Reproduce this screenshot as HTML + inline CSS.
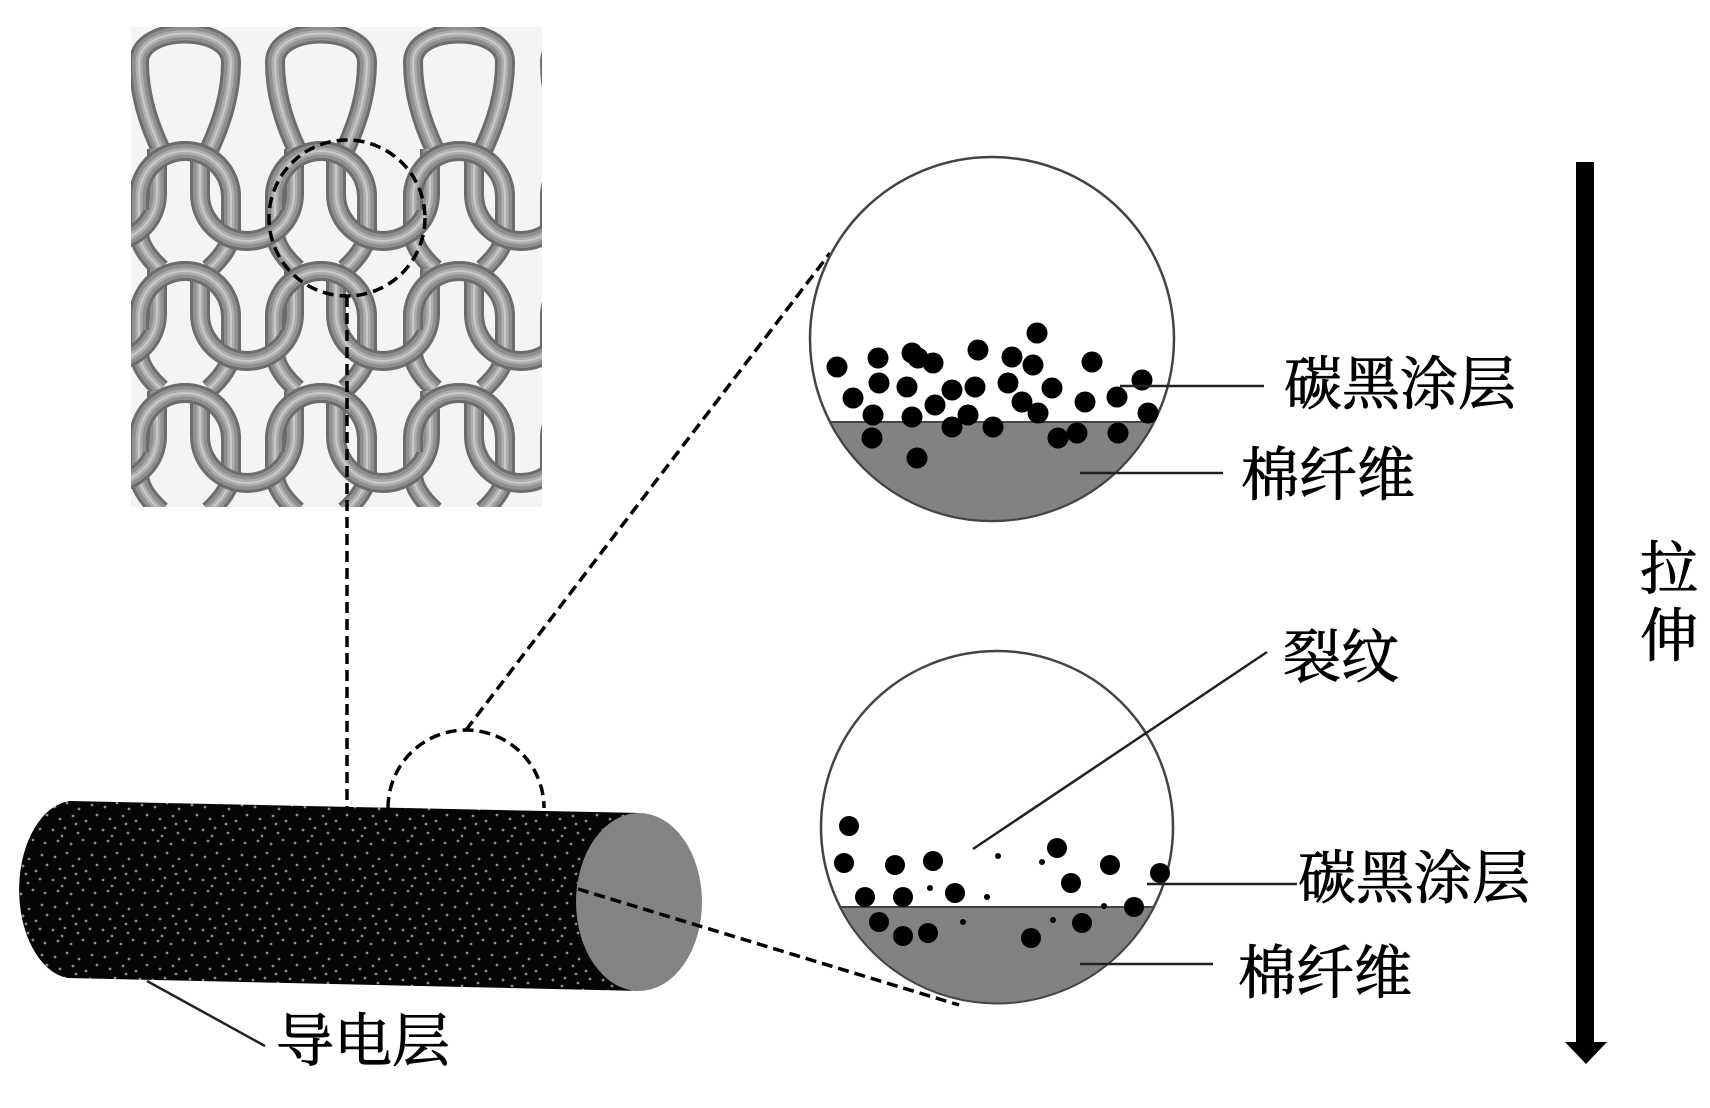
<!DOCTYPE html>
<html>
<head>
<meta charset="utf-8">
<style>
  html, body { margin: 0; padding: 0; background: #ffffff; }
  body { width: 1710px; height: 1108px; overflow: hidden; }
  svg { display: block; }
  .lbl { font-family: "Liberation Serif", "Noto Serif CJK SC", serif; font-size: 58px; fill: #000; stroke: #000; stroke-width: 0.9px; }
</style>
</head>
<body>
<svg width="1710" height="1108" viewBox="0 0 1710 1108" xmlns="http://www.w3.org/2000/svg">
  <defs>
    <clipPath id="kc"><rect x="131" y="27" width="411" height="480"/></clipPath>
    <path id="tear" fill="none" d="M-24,150 C-38,120 -46,92 -46,62 C-46,24 46,24 46,62 C46,92 38,120 24,150"/>
    <path id="arch" fill="none" d="M-24,125 Q-46,105 -46,88 L-46,53 A46,46 0 0 1 46,53 L46,88 Q46,105 24,125"/>
    <path id="archTop" fill="none" d="M-46,66 L-46,53 A46,46 0 0 1 46,53 L46,66"/>
    <path id="u" fill="none" d="M-47,5 L-47,50 A47,47 0 0 0 47,50 L47,5"/>
    <g id="tearS"><use href="#tear" stroke="#6c6c6c" stroke-width="20"/><use href="#tear" stroke="#8f8f8f" stroke-width="14"/><use href="#tear" stroke="#adadad" stroke-width="7"/><use href="#tear" stroke="#c9c9c9" stroke-width="2"/></g>
    <g id="archS"><use href="#arch" stroke="#6c6c6c" stroke-width="20"/><use href="#arch" stroke="#8f8f8f" stroke-width="14"/><use href="#arch" stroke="#adadad" stroke-width="7"/><use href="#arch" stroke="#c9c9c9" stroke-width="2"/></g>
    <g id="archTopS"><use href="#archTop" stroke="#6c6c6c" stroke-width="20"/><use href="#archTop" stroke="#8f8f8f" stroke-width="14"/><use href="#archTop" stroke="#adadad" stroke-width="7"/><use href="#archTop" stroke="#c9c9c9" stroke-width="2"/></g>
    <g id="uS"><use href="#u" stroke="#6c6c6c" stroke-width="20"/><use href="#u" stroke="#8f8f8f" stroke-width="14"/><use href="#u" stroke="#adadad" stroke-width="7"/><use href="#u" stroke="#c9c9c9" stroke-width="2"/></g>
    <pattern id="spk" width="50" height="50" patternUnits="userSpaceOnUse">
      <rect width="50" height="50" fill="#050505"/>
      <g fill="#8c8c8c">
        <circle cx="5" cy="7" r="1.4"/><circle cx="17" cy="3" r="1.4"/><circle cx="29" cy="9" r="1.4"/><circle cx="42" cy="5" r="1.4"/>
        <circle cx="10" cy="19" r="1.4"/><circle cx="23" cy="16" r="1.4"/><circle cx="36" cy="21" r="1.4"/><circle cx="47" cy="15" r="1.4"/>
        <circle cx="3" cy="30" r="1.4"/><circle cx="15" cy="28" r="1.4"/><circle cx="28" cy="33" r="1.4"/><circle cx="40" cy="29" r="1.4"/>
        <circle cx="8" cy="41" r="1.4"/><circle cx="21" cy="44" r="1.4"/><circle cx="33" cy="40" r="1.4"/><circle cx="45" cy="43" r="1.4"/>
        <circle cx="26" cy="24" r="1.4"/><circle cx="12" cy="36" r="1.4"/>
      </g>
    </pattern>
  </defs>

  <!-- Knit image -->
  <g clip-path="url(#kc)">
    <rect x="131" y="27" width="411" height="480" fill="#f4f4f4"/>
    <use href="#tearS" x="185" y="0"/>
    <use href="#tearS" x="321" y="0"/>
    <use href="#tearS" x="459" y="0"/>
    <use href="#tearS" x="596" y="0"/>
    <!-- Row A -->
    <use href="#archS" x="185" y="144"/><use href="#archS" x="321" y="144"/><use href="#archS" x="459" y="144"/><use href="#archS" x="596" y="144"/>
    <use href="#uS" x="110" y="144"/><use href="#uS" x="247" y="144"/><use href="#uS" x="383" y="144"/><use href="#uS" x="521" y="144"/>
    <use href="#archTopS" x="185" y="144"/><use href="#archTopS" x="321" y="144"/><use href="#archTopS" x="459" y="144"/><use href="#archTopS" x="596" y="144"/>
    <!-- Row B -->
    <use href="#archS" x="185" y="264"/><use href="#archS" x="321" y="264"/><use href="#archS" x="459" y="264"/><use href="#archS" x="596" y="264"/>
    <use href="#uS" x="110" y="264"/><use href="#uS" x="247" y="264"/><use href="#uS" x="383" y="264"/><use href="#uS" x="521" y="264"/>
    <use href="#archTopS" x="185" y="264"/><use href="#archTopS" x="321" y="264"/><use href="#archTopS" x="459" y="264"/><use href="#archTopS" x="596" y="264"/>
    <!-- Row C -->
    <use href="#archS" x="185" y="386"/><use href="#archS" x="321" y="386"/><use href="#archS" x="459" y="386"/><use href="#archS" x="596" y="386"/>
    <use href="#uS" x="110" y="386"/><use href="#uS" x="247" y="386"/><use href="#uS" x="383" y="386"/><use href="#uS" x="521" y="386"/>
    <use href="#archTopS" x="185" y="386"/><use href="#archTopS" x="321" y="386"/><use href="#archTopS" x="459" y="386"/><use href="#archTopS" x="596" y="386"/>
  </g>

  <!-- dashed circle on knit and vertical connector -->
  <g fill="none" stroke="#000" stroke-width="3.5" stroke-dasharray="11 6">
    <circle cx="347" cy="218" r="78"/>
    <line x1="347" y1="296" x2="347" y2="808"/>
  </g>

  <!-- Cylinder -->
  <path d="M70,801 L639,813 L639,991 L67,978 A55,89 0 0 1 70,801 Z" fill="url(#spk)"/>
  <ellipse cx="639" cy="902" rx="63" ry="89" fill="#838383"/>

  <!-- dashed arch and connectors -->
  <g fill="none" stroke="#000" stroke-width="3.5" stroke-dasharray="11 6">
    <path d="M388,808 A78,78 0 0 1 544,808"/>
    <line x1="466" y1="730" x2="830" y2="253"/>
    <line x1="578" y1="889" x2="959" y2="1005"/>
  </g>

  <!-- Top circle -->
  <circle cx="992" cy="339" r="182" fill="#ffffff" stroke="#444" stroke-width="2.5"/>
  <path d="M830,422 L1154,422 A182,182 0 0 1 830,422 Z" fill="#828282" stroke="#444" stroke-width="2"/>
  <g fill="#000">
    <circle cx="837" cy="367" r="10.5"/><circle cx="878" cy="358" r="10.5"/><circle cx="912" cy="353" r="10.5"/><circle cx="918" cy="358" r="10.5"/>
    <circle cx="933" cy="363" r="10.5"/><circle cx="978" cy="350" r="10.5"/><circle cx="1012" cy="357" r="10.5"/><circle cx="1037" cy="333" r="10.5"/>
    <circle cx="1033" cy="365" r="10.5"/><circle cx="1092" cy="362" r="10.5"/><circle cx="1142" cy="380" r="10.5"/><circle cx="853" cy="398" r="10.5"/>
    <circle cx="879" cy="383" r="10.5"/><circle cx="907" cy="387" r="10.5"/><circle cx="935" cy="405" r="10.5"/><circle cx="952" cy="390" r="10.5"/>
    <circle cx="975" cy="387" r="10.5"/><circle cx="1008" cy="383" r="10.5"/><circle cx="1022" cy="402" r="10.5"/><circle cx="1052" cy="388" r="10.5"/>
    <circle cx="1038" cy="413" r="10.5"/><circle cx="1085" cy="402" r="10.5"/><circle cx="1117" cy="397" r="10.5"/><circle cx="1148" cy="413" r="10.5"/>
    <circle cx="873" cy="415" r="10.5"/><circle cx="912" cy="417" r="10.5"/><circle cx="968" cy="415" r="10.5"/><circle cx="952" cy="427" r="10.5"/>
    <circle cx="993" cy="427" r="10.5"/><circle cx="872" cy="438" r="10.5"/><circle cx="917" cy="458" r="10.5"/><circle cx="1058" cy="438" r="10.5"/>
    <circle cx="1077" cy="433" r="10.5"/><circle cx="1118" cy="433" r="10.5"/>
  </g>

  <!-- Lower circle -->
  <circle cx="997" cy="827" r="176" fill="#ffffff" stroke="#444" stroke-width="2.5"/>
  <path d="M840,907 L1154,907 A176,176 0 0 1 840,907 Z" fill="#828282" stroke="#444" stroke-width="2"/>
  <g fill="#000">
    <circle cx="849" cy="826" r="10"/><circle cx="844" cy="863" r="10"/><circle cx="895" cy="865" r="10"/><circle cx="933" cy="861" r="10"/>
    <circle cx="1057" cy="848" r="10"/><circle cx="1110" cy="865" r="10"/><circle cx="1160" cy="873" r="10"/><circle cx="1071" cy="883" r="10"/>
    <circle cx="865" cy="897" r="10"/><circle cx="903" cy="897" r="10"/><circle cx="955" cy="893" r="10"/><circle cx="1134" cy="907" r="10"/>
    <circle cx="879" cy="922" r="10"/><circle cx="903" cy="936" r="10"/><circle cx="928" cy="933" r="10"/><circle cx="1031" cy="938" r="10"/>
    <circle cx="1082" cy="923" r="10"/>
    <circle cx="998" cy="856" r="3"/><circle cx="1042" cy="862" r="3"/><circle cx="930" cy="888" r="3"/><circle cx="987" cy="897" r="3"/>
    <circle cx="963" cy="922" r="3"/><circle cx="1053" cy="920" r="3"/><circle cx="1104" cy="906" r="3"/>
  </g>

  <!-- Leader lines -->
  <g stroke="#222" stroke-width="2.5" fill="none">
    <line x1="1120" y1="386" x2="1264" y2="386"/>
    <line x1="1080" y1="473" x2="1223" y2="473"/>
    <line x1="973" y1="849" x2="1267" y2="652"/>
    <line x1="1147" y1="884" x2="1297" y2="884"/>
    <line x1="1080" y1="964" x2="1213" y2="964"/>
    <line x1="147" y1="981" x2="265" y2="1046"/>
  </g>

  <!-- Stretch arrow -->
  <rect x="1576" y="162" width="18" height="884" fill="#000"/>
  <polygon points="1565,1042 1607,1042 1586,1064" fill="#000"/>

  <!-- Labels -->
  <text class="lbl" x="1284" y="404">碳黑涂层</text>
  <text class="lbl" x="1241" y="495">棉纤维</text>
  <text class="lbl" x="1283" y="677">裂纹</text>
  <text class="lbl" x="1298" y="898">碳黑涂层</text>
  <text class="lbl" x="1238" y="993">棉纤维</text>
  <text class="lbl" x="276" y="1061">导电层</text>
  <text class="lbl" x="1640" y="589">拉</text>
  <text class="lbl" x="1640" y="656">伸</text>
</svg>
</body>
</html>
